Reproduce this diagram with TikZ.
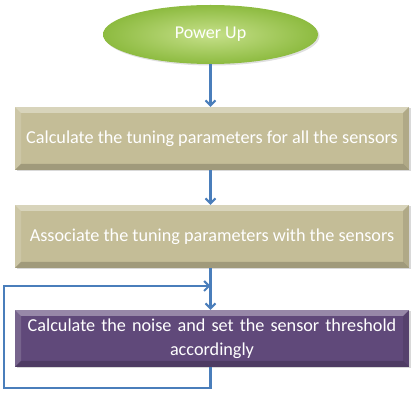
\documentclass[tikz,border=0pt]{standalone}
\usepackage{fontspec}
\setmainfont{Carlito}
\usetikzlibrary{arrows.meta,shapes.geometric,shadows,calc}
\definecolor{tanbox}{HTML}{C4BD97}
\definecolor{purplebox}{HTML}{60497A}
\definecolor{greenin}{HTML}{C6E08A}
\definecolor{greenout}{HTML}{8DBB40}
\definecolor{arrowblue}{HTML}{4A7EBB}
\tikzset{
  bevel/.style={path picture={
    \def\bb{path picture bounding box}
    \fill[white,opacity=0.35] (\bb.north west) -- (\bb.north east) -- ([shift={(-6pt,-6pt)}]\bb.north east) -- ([shift={(6pt,-6pt)}]\bb.north west) -- cycle;
    \fill[white,opacity=0.15] (\bb.north west) -- (\bb.south west) -- ([shift={(6pt,6pt)}]\bb.south west) -- ([shift={(6pt,-6pt)}]\bb.north west) -- cycle;
    \fill[black,opacity=0.18] (\bb.south west) -- (\bb.south east) -- ([shift={(-6pt,6pt)}]\bb.south east) -- ([shift={(6pt,6pt)}]\bb.south west) -- cycle;
    \fill[black,opacity=0.10] (\bb.north east) -- (\bb.south east) -- ([shift={(-6pt,6pt)}]\bb.south east) -- ([shift={(-6pt,-6pt)}]\bb.north east) -- cycle;
  }},
  stepbox/.style={rectangle, minimum width=394pt, inner sep=0pt, text=white,
    font=\fontsize{18.2}{24}\selectfont, align=center, bevel,
    drop shadow={shadow xshift=1.5pt, shadow yshift=-1.5pt, opacity=0.3}},
  startnode/.style={ellipse, minimum width=215pt, minimum height=59pt, inner sep=0pt,
    inner color=greenin, outer color=greenout, text=white,
    font=\fontsize{18}{22}\selectfont,
    drop shadow={shadow xshift=1.5pt, shadow yshift=-1.5pt, opacity=0.25}},
  flow/.style={draw=arrowblue, line width=2.2pt, -{Straight Barb[length=5pt,width=10pt,line width=2pt]}},
  loopline/.style={draw=arrowblue, line width=2.2pt}
}
\begin{document}
\begin{tikzpicture}[x=1pt,y=-1pt]
\useasboundingbox (0,0) rectangle (413,395);
\node[startnode] (e) at (210.5,34.5) {Power Up};
\node[stepbox, fill=tanbox, minimum height=63pt] (b1) at (212,138.5) {Calculate the tuning parameters for all the sensors};
\node[stepbox, fill=tanbox, minimum height=63pt] (b2) at (212,236.5) {Associate the tuning parameters with the sensors};
\node[stepbox, fill=purplebox, minimum height=57pt, text width=385pt] (b3) at (212,338.5) {Calculate the noise and set the sensor threshold\\accordingly};
\coordinate (lb) at (210.5,388);
\coordinate (ll) at (4,388);
\coordinate (lt) at (4,286);
\coordinate (lm) at (210.5,286);
\draw[flow] (e.south) -- (e.south |- b1.north);
\draw[flow] (e.south |- b1.south) -- (e.south |- b2.north);
\draw[flow] (e.south |- b2.south) -- (e.south |- b3.north);
\draw[loopline, line join=miter] (e.south |- b3.south) -- (lb) -- (ll) -- (lt) -- ($(lm)+(-2pt,0)$);
\draw[flow] (lt) -- (lm);
\end{tikzpicture}
\end{document}
